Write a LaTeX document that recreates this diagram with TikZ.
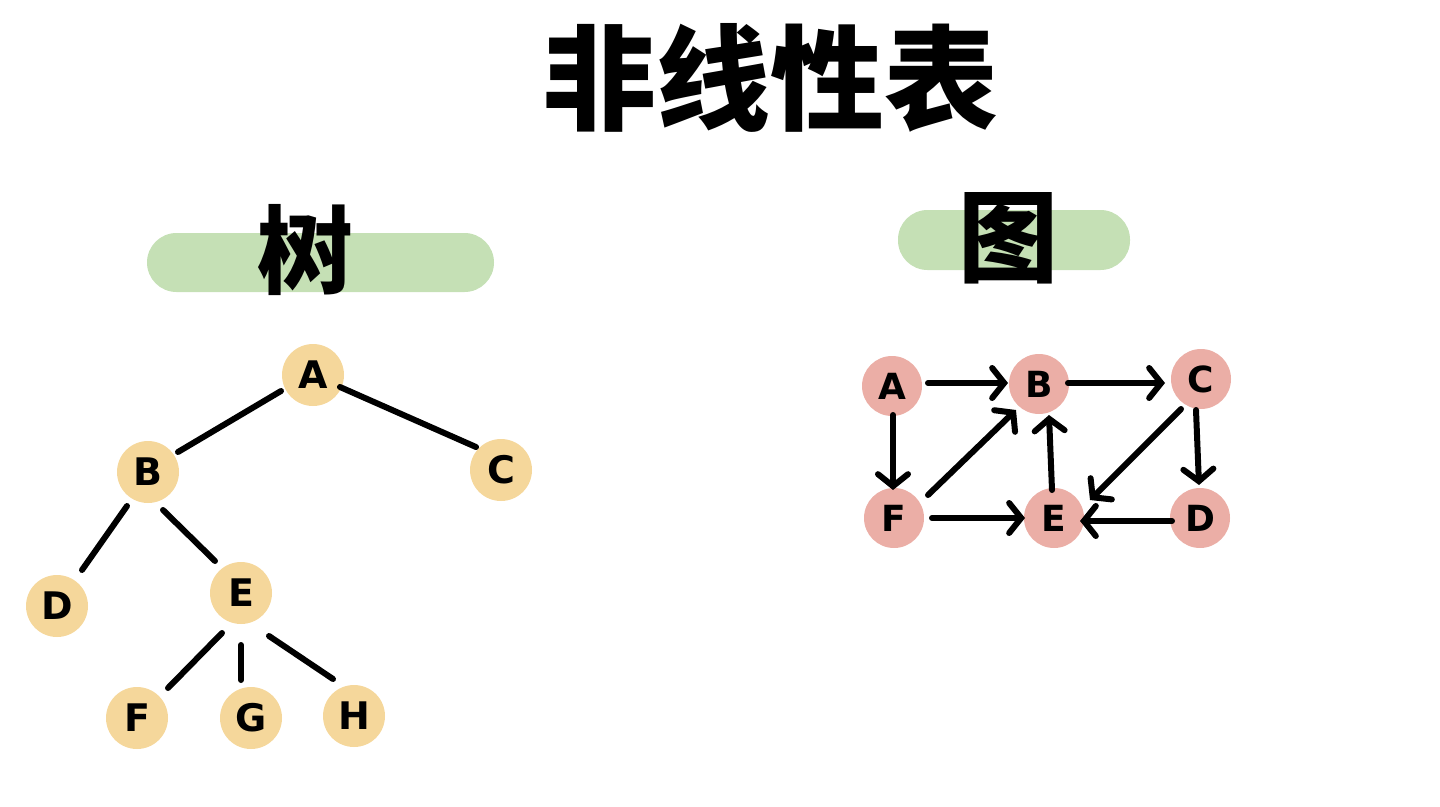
\documentclass[tikz,border=0pt]{standalone}
\usepackage{fontspec}
\setmainfont{DejaVu Sans}
\newfontfamily\cjk{Noto Sans CJK SC}
\usetikzlibrary{arrows.meta,calc}
\definecolor{treefill}{HTML}{F5D79B}
\definecolor{graphfill}{HTML}{EBAEA6}
\definecolor{pillgreen}{HTML}{C5E0B5}
\begin{document}
\begin{tikzpicture}[x=1pt,y=-1pt,
  tnode/.style={circle,fill=treefill,minimum size=62pt,inner sep=0pt,font=\fontsize{38}{38}\selectfont\bfseries},
  gnode/.style={circle,fill=graphfill,minimum size=60pt,inner sep=0pt,font=\fontsize{36}{36}\selectfont\bfseries},
  edge/.style={line width=6pt,line cap=round},
  arr/.style={line width=6pt,line cap=round,-{Straight Barb[length=12pt,width=30pt,line cap=round]}},
  pill/.style={fill=pillgreen,rounded corners=29.5pt,inner sep=0pt},
  cjkbig/.style={font=\cjk\bfseries\fontsize{#1}{#1}\selectfont}]
\useasboundingbox (0,0) rectangle (1440,806);
% title
\node (title) [cjkbig=114] at (770,78) {非线性表};
% pills
\node (lpill) [pill,minimum width=347pt,minimum height=59pt] at (320.5,262.5) {};
\node (rpill) [pill,minimum width=232pt,minimum height=60pt] at (1014,240) {};
\node (ltitle) [cjkbig=96] at (305,250) {树};
\node (rtitle) [cjkbig=100] at (1008,238) {图};
% tree
\node (tA) [tnode] at (313,375) {A};
\node (tB) [tnode] at (148,472) {B};
\node (tC) [tnode] at (501,470) {C};
\node (tD) [tnode] at (57,606) {D};
\node (tE) [tnode] at (241,593) {E};
\node (tF) [tnode] at (137,718) {F};
\node (tG) [tnode] at (251,718) {G};
\node (tH) [tnode] at (354,716) {H};
\draw[edge] ($(tA)+(-32,16)$) -- ($(tB)+(30,-20)$);
\draw[edge] ($(tA)+(27,12)$) -- ($(tC)+(-25,-23)$);
\draw[edge] ($(tB)+(-21,34)$) -- ($(tD)+(25,-36)$);
\draw[edge] ($(tB)+(15,38)$) -- ($(tE)+(-26,-32)$);
\draw[edge] ($(tE)+(-19,40)$) -- ($(tF)+(31,-30)$);
\draw[edge] ($(tE)+(0,52)$) -- ($(tG)+(-10,-38)$);
\draw[edge] ($(tE)+(28,43)$) -- ($(tH)+(-21,-37)$);
% graph
\node (gA) [gnode] at (892,386) {A};
\node (gB) [gnode] at (1039,384) {B};
\node (gC) [gnode] at (1201,379) {C};
\node (gF) [gnode] at (894,518) {F};
\node (gE) [gnode] at (1054,518) {E};
\node (gD) [gnode] at (1200,518) {D};
\draw[arr] ($(gA)+(36,-3)$) -- ($(gB)+(-31,-1)$);
\draw[arr] ($(gB)+(29,-1)$) -- ($(gC)+(-36,4)$);
\draw[arr] ($(gA)+(1,29)$) -- ($(gF)+(-1,-28)$);
\draw[arr] ($(gF)+(34,-23)$) -- ($(gB)+(-23,26)$);
\draw[arr] ($(gE)+(-2,-28)$) -- ($(gB)+(10,31)$);
\draw[arr] ($(gC)+(-20,30)$) -- ($(gE)+(36,-18)$);
\draw[arr] ($(gC)+(-5,31)$) -- ($(gD)+(-1,-33)$);
\draw[arr] ($(gF)+(38,0)$) -- ($(gE)+(-29,0)$);
\draw[arr] ($(gD)+(-28,3)$) -- ($(gE)+(26,3)$);
\end{tikzpicture}
\end{document}
